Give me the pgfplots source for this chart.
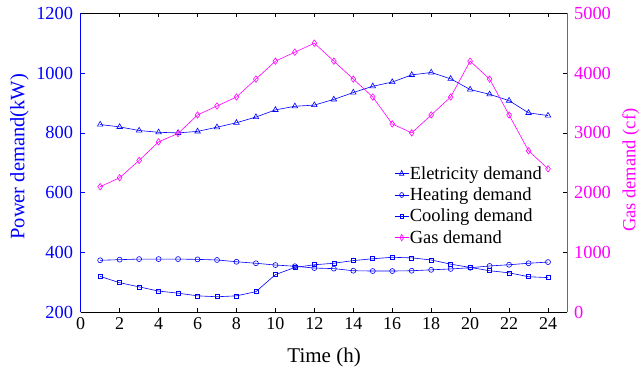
\documentclass[border=0pt]{standalone}
\usepackage{pgfplots}
\pgfplotsset{compat=1.18}
\usepackage{fontspec}
\setmainfont{Liberation Serif}
\definecolor{cblue}{RGB}{0,0,255}
\definecolor{cmag}{RGB}{255,0,255}
\begin{document}
\begin{tikzpicture}
\pgfplotsset{
  base/.style={
    scale only axis, width=486.8pt, height=299pt,
    xmin=0, xmax=25, xtick={0,2,...,24},
    /pgf/number format/assume math mode=true,
    x tick label style={font=\fontsize{18}{20}\selectfont, yshift=-1.5pt},
    y tick label style={font=\fontsize{18.4}{20}\selectfont},
    tick align=inside, major tick length=4pt,
    line width=0.6pt,
    every tick/.style={line width=0.5pt},
  }
}
\begin{axis}[base,
  axis y line*=left,
  ymin=200, ymax=1200, ytick={200,400,...,1200},
  /pgf/number format/.cd,1000 sep={},
  /pgfplots/.cd,
  y axis line style={cblue},
  y tick label style={text=cblue, xshift=-4pt},
  y tick style={cblue},
  xlabel={Time (h)},
  xlabel style={font=\fontsize{21}{23}\selectfont,at={(axis description cs:0.5,-0.150)},anchor=center},
  ylabel={Power demand(kW)},
  ylabel style={font=\fontsize{20.5}{22}\selectfont,text=cblue,at={(axis description cs:-0.126,0.52)},anchor=center},
  legend style={draw=none, fill=none, at={(rel axis cs:0.950,0.492)}, anchor=north east,
    font=\fontsize{18.5}{20}\selectfont, row sep=5pt, inner sep=0pt,
    nodes={inner sep=1pt}},
  legend cell align=left,
  legend image post style={xscale=0.8},
]
\addplot[cblue, line width=0.6pt, mark=triangle, mark size=3.2pt, mark options={solid}] coordinates {
(1,828)(2,820)(3,808)(4,802)(5,800)(6,805)(7,819)(8,834)(9,853)(10,877)(11,889)(12,893)
(13,912)(14,935)(15,956)(16,970)(17,994)(18,1002)(19,981)(20,945)(21,929)(22,908)(23,867)(24,858)};
\addlegendentry{Eletricity demand}
\addplot[cblue, line width=0.6pt, mark=o, mark size=2.5pt] coordinates {
(1,374)(2,376)(3,378)(4,378)(5,378)(6,377)(7,375)(8,369)(9,364)(10,358)(11,354)(12,348)
(13,346)(14,339)(15,338)(16,338)(17,339)(18,342)(19,345)(20,349)(21,355)(22,359)(23,364)(24,368)};
\addlegendentry{Heating demand}
\addplot[cblue, line width=0.6pt, mark=square, mark size=2pt] coordinates {
(1,320)(2,299)(3,285)(4,271)(5,264)(6,255)(7,252)(8,255)(9,269)(10,326)(11,350)(12,359)
(13,364)(14,373)(15,379)(16,384)(17,382)(18,375)(19,361)(20,350)(21,339)(22,332)(23,319)(24,316)};
\addlegendentry{Cooling demand}
\addlegendimage{cmag, line width=0.6pt, mark=diamond, mark size=3.2pt}
\addlegendentry{Gas demand}
\end{axis}
\begin{axis}[base,
  axis y line*=right, axis x line=none,
  ymin=0, ymax=5000, ytick={0,1000,...,5000},
  /pgf/number format/.cd,1000 sep={},
  /pgfplots/.cd,
  y axis line style={cmag},
  y tick label style={text=cmag, xshift=3pt},
  y tick style={black},
  ylabel={Gas demand (cf)},
  ylabel style={font=\fontsize{18.5}{20}\selectfont,text=cmag,at={(axis description cs:1.130,0.475)},anchor=center},
]
\addplot[cmag, line width=0.6pt, mark=diamond, mark size=3.2pt] coordinates {
(1,2100)(2,2250)(3,2540)(4,2850)(5,2990)(6,3300)(7,3450)(8,3600)(9,3900)(10,4200)(11,4350)(12,4500)
(13,4200)(14,3900)(15,3600)(16,3150)(17,3000)(18,3300)(19,3600)(20,4200)(21,3900)(22,3300)(23,2700)(24,2400)};
\end{axis}
\pgfresetboundingbox
\path (current axis.south west) ++(-80.7pt,-58.7pt) rectangle ++(641pt,371pt);
\end{tikzpicture}
\end{document}
